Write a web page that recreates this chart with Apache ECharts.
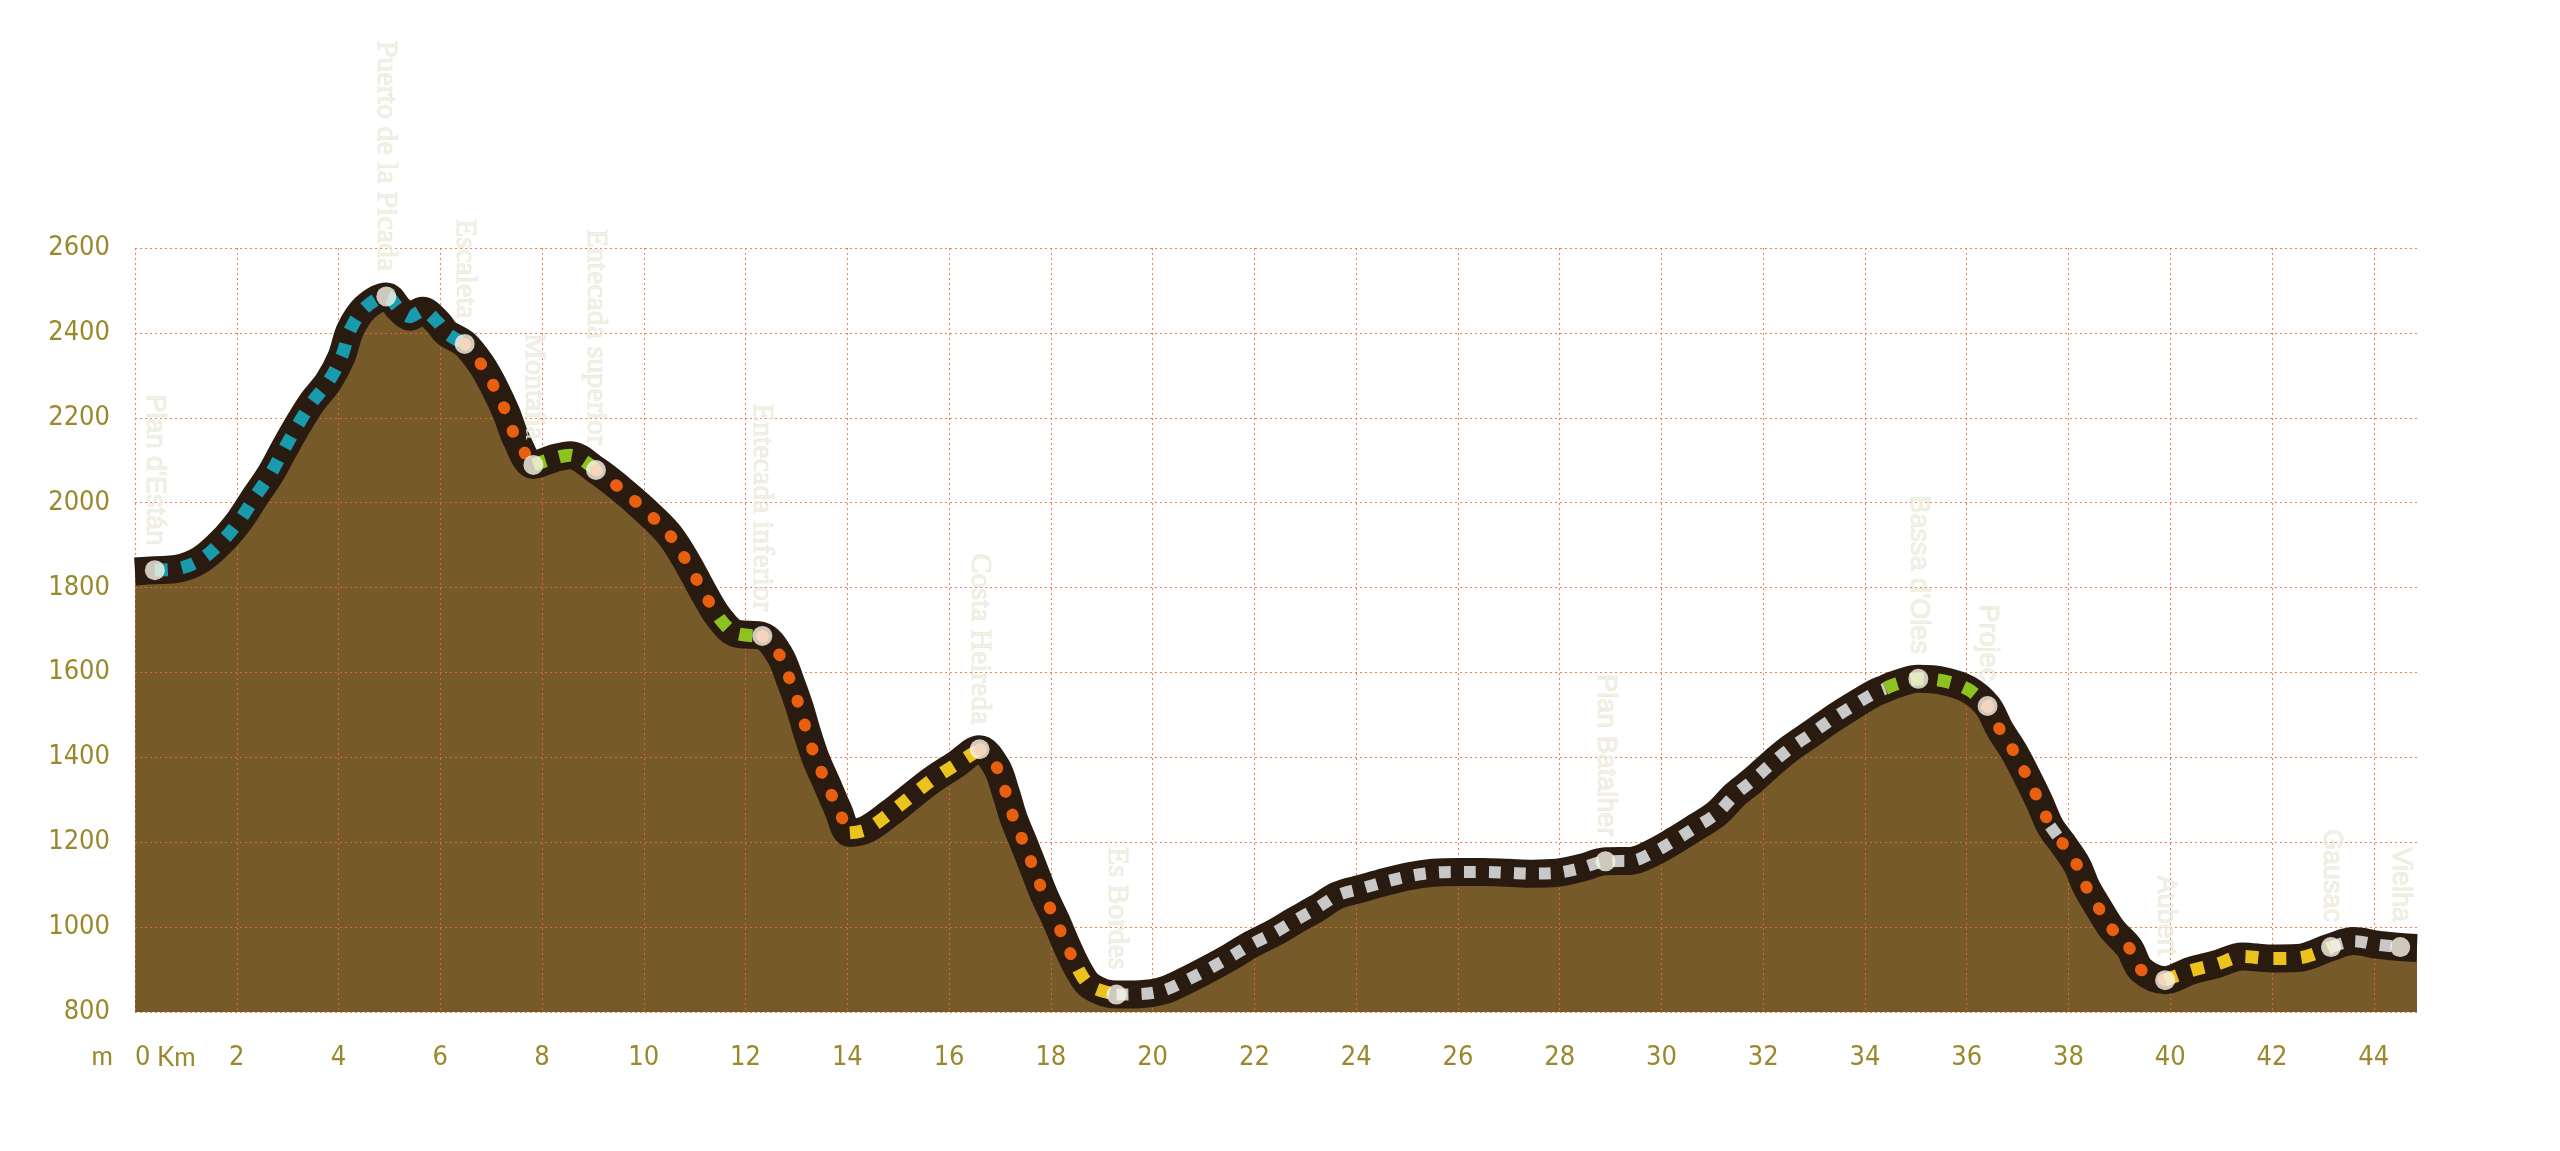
<!DOCTYPE html>
<html><head><meta charset="utf-8">
<script src="https://cdn.jsdelivr.net/npm/echarts@6/dist/echarts.min.js"></script>
<style>html,body{margin:0;padding:0;background:#fff;}#c{width:2560px;height:1151px;}</style>
</head><body><div id="c"></div>
<script>
// ---- data ----
const profileKm = [0.00,0.39,0.82,1.28,1.70,2.06,2.36,2.65,2.92,3.18,3.47,3.80,4.06,4.23,4.52,4.94,5.20,5.40,5.65,5.95,6.12,6.48,6.81,7.07,7.30,7.50,7.83,8.25,8.55,9.06,9.53,10.00,10.50,10.85,11.20,11.48,11.81,12.33,12.67,12.88,13.06,13.21,13.38,13.60,13.82,14.05,14.37,14.83,15.26,15.68,16.13,16.60,16.93,17.11,17.27,17.47,17.67,17.87,18.10,18.31,18.54,18.78,19.29,19.75,20.22,20.67,21.11,21.53,21.95,22.38,22.79,23.22,23.64,24.11,24.58,25.04,25.51,26.00,26.50,26.99,27.47,27.95,28.44,28.90,29.40,29.84,30.27,30.67,31.09,31.44,31.80,32.17,32.55,32.95,33.34,33.76,34.18,34.40,34.60,35.05,35.54,36.03,36.41,36.65,36.93,37.19,37.43,37.64,37.88,38.17,38.35,38.60,38.86,39.19,39.43,39.90,40.40,40.92,41.42,41.97,42.50,43.16,43.60,44.10,44.52,44.85];
const profileElev = [1838,1841,1844,1865,1908,1959,2014,2065,2124,2179,2235,2285,2344,2407,2459,2486,2455,2438,2452,2425,2400,2374,2325,2270,2211,2148,2089,2105,2112,2077,2034,1985,1925,1860,1783,1729,1692,1686,1641,1580,1519,1458,1397,1337,1276,1222,1230,1268,1309,1348,1383,1419,1378,1319,1256,1197,1136,1075,1016,957,900,861,841,842,851,875,902,930,960,986,1015,1044,1075,1091,1107,1120,1128,1130,1130,1128,1126,1128,1140,1155,1156,1176,1205,1235,1268,1311,1346,1386,1423,1456,1489,1521,1551,1562,1572,1585,1580,1560,1521,1466,1413,1354,1295,1238,1198,1146,1095,1044,995,952,899,875,897,913,931,926,927,953,967,958,953,951];

const waypointNames = ["Plan d'Están","Puerto de la Picada","Escaleta","Montaña","Entecada superior","Entecada inferior","Costa Heireda","Es Bordes","Plan Batalher","Bassa d'Oles","Projec","Aubert","Gausac","Vielha"];
const waypointKm = [0.39,4.94,6.48,7.83,9.06,12.33,16.60,19.29,28.90,35.05,36.41,39.90,43.16,44.52];
const sansWaypoints = ["Plan d'Están","Plan Batalher","Bassa d'Oles","Projec","Aubert","Gausac","Vielha"];

// trail-type segments along the route
const segmentFrom = [0.39,6.48,7.83,9.06,11.48,12.33,14.05,16.60,18.54,19.29,34.40,36.41,37.64,37.88,39.90,43.16];
const segmentTo   = [6.48,7.83,9.06,11.48,12.33,14.05,16.60,18.54,19.29,34.40,36.41,37.64,37.88,39.90,43.16,44.52];
const segmentKind = ['blue','orange','green','orange','green','orange','yellow','orange','yellow','grey','green','orange','grey','orange','yellow','grey'];

const xMin = 0, xMax = 44.85, xStep = 2;
const yMin = 800, yMax = 2600, yStep = 200;

// ---- styles ----
const axisColor = '#9a892c';
const narrowFont = '"Liberation Sans Narrow","DejaVu Sans Condensed","Roboto Condensed",sans-serif';
const gridLine = {color:'#ef6a2a', width:1, type:[2,3], opacity:0.85};
const kindStyle = {
  blue:   {color:'#1a9aad', width:13, type:[13,14], cap:'butt'},
  green:  {color:'#8ec21f', width:13, type:[13,14], cap:'butt'},
  yellow: {color:'#ecc31c', width:13, type:[13,15], cap:'butt'},
  grey:   {color:'#c8c8c8', width:12, type:[12,13], cap:'butt'},
  orange: {color:'#e85f10', width:12, type:[1,24], cap:'round'}
};
const SMOOTH = 0.35;

const pts = profileKm.map((k,i)=>[k, profileElev[i]]);

const segSeries = segmentFrom.map((a,i)=>({
  type:'line',
  data: pts.filter(p=>p[0]>=a-1e-9 && p[0]<=segmentTo[i]+1e-9),
  smooth: SMOOTH, showSymbol:false, silent:true, z:5,
  lineStyle: Object.assign({}, kindStyle[segmentKind[i]])
}));

const wpData = waypointNames.map((n,i)=>{
  const k = waypointKm[i];
  const e = profileElev[profileKm.indexOf(k)];
  const sans = sansWaypoints.includes(n);
  return {name:n, value:[k,e], label:{
    fontFamily: sans ? '"Liberation Sans",Arial,sans-serif' : '"Liberation Serif","Times New Roman",serif',
    fontSize: sans ? 27 : 30
  }};
});

const chart = echarts.init(document.getElementById('c'), null, {renderer:'canvas'});
chart.setOption({
  animation:false,
  backgroundColor:'#ffffff',
  grid:{left:135, right:143, top:248, bottom:139},
  xAxis:{
    type:'value', min:xMin, max:xMax, interval:xStep, z:3,
    axisLine:{show:false}, axisTick:{show:false},
    splitLine:{show:true, showMaxLine:false, lineStyle:gridLine},
    axisLabel:{
      margin:32, color:axisColor, fontFamily:narrowFont, fontSize:27,
      showMaxLabel:false, alignMinLabel:'left',
      formatter: v => v===0 ? '{n|0}{k| Km}' : (Math.abs(v-Math.round(v))<1e-6 ? String(Math.round(v)) : ''),
      rich:{
        n:{fontFamily:narrowFont, fontSize:27, color:axisColor},
        k:{fontFamily:'Lato,"Liberation Sans",sans-serif', fontSize:26, color:axisColor}
      }
    }
  },
  yAxis:{
    type:'value', min:yMin, max:yMax, interval:yStep, z:3,
    axisLine:{show:false}, axisTick:{show:false},
    splitLine:{show:true, lineStyle:gridLine},
    axisLabel:{margin:25, color:axisColor, fontFamily:narrowFont, fontSize:27, padding:[0,0,10,0],
      formatter: v => String(v)},
    name:'m', nameLocation:'start', nameGap:45,
    nameTextStyle:{fontFamily:'Lato,"Liberation Sans",sans-serif', fontSize:26, color:axisColor,
      align:'right', verticalAlign:'middle', padding:[0,22,0,0]}
  },
  series:[
    {type:'line', data:pts, smooth:SMOOTH, showSymbol:false, silent:true, z:2,
      lineStyle:{width:0, color:'#765a29'}, areaStyle:{color:'#765a29', opacity:1}},
    {type:'line', data:pts, smooth:SMOOTH, showSymbol:false, silent:true, z:4,
      lineStyle:{width:28, color:'#2a1b10', cap:'butt', join:'round'}},
    ...segSeries,
    {type:'scatter', data:wpData, symbol:'circle', symbolSize:20, z:6, silent:true,
      itemStyle:{color:'#f7f4e8'},
      label:{show:true, formatter:'{b}', position:'top', distance:15, rotate:-90,
        align:'right', verticalAlign:'middle', color:'#f0eddb',
        textBorderColor:'rgba(120,110,80,0.22)', textBorderWidth:0.8}}
  ]
});
</script></body></html>
